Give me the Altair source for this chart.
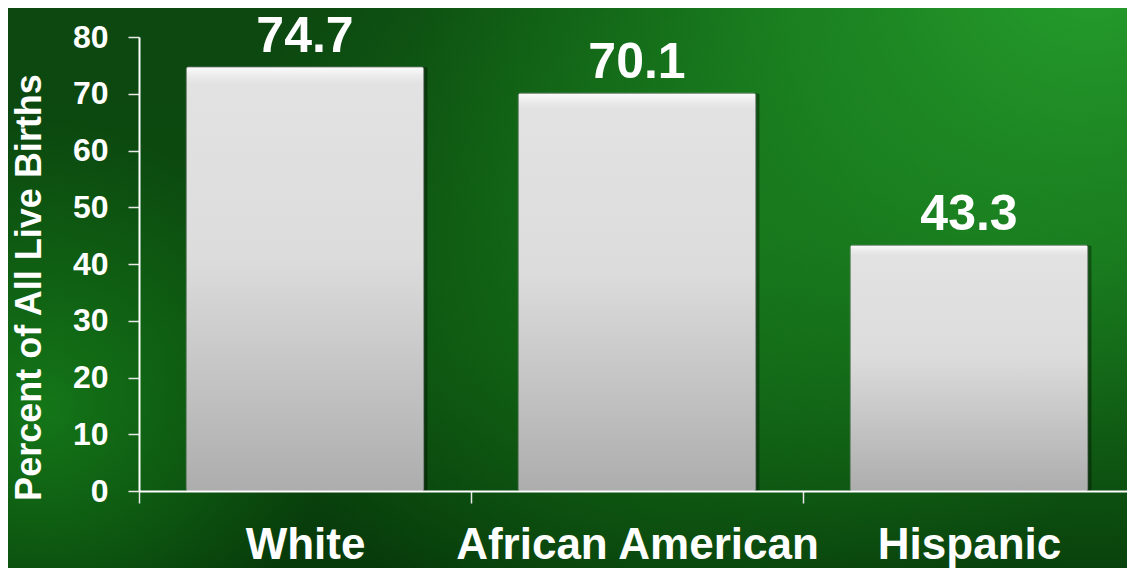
import altair as alt
import pandas as pd

categories = ["White", "African American", "Hispanic"]
values = [74.7, 70.1, 43.3]
y_ticks = [0, 10, 20, 30, 40, 50, 60, 70, 80]
y_title = "Percent of All Live Births"

df = pd.DataFrame({"group": categories, "pct": values})
one = pd.DataFrame({"k": [0]})

FONT = "Liberation Sans"
W, H = 988, 454
PL, PT, PB = 131, 29, 77


def bg_layer(fill):
    return alt.Chart(one).mark_rect(fill=fill, strokeWidth=0).encode(
        x=alt.value(-PL), x2=alt.value(W + 20),
        y=alt.value(-PT), y2=alt.value(H + PB + 10),
    )


base_bg = bg_layer(alt.Gradient(
    gradient="linear", x1=0, y1=0, x2=0, y2=1,
    stops=[alt.GradientStop(offset=0, color="#0c4810"),
           alt.GradientStop(offset=0.6, color="#0b4a0e"),
           alt.GradientStop(offset=1, color="#073a0a")]))

glow_tr = bg_layer(alt.Gradient(
    gradient="radial", x1=0.95, y1=0.2, r1=0, x2=0.95, y2=0.2, r2=0.6,
    stops=[alt.GradientStop(offset=0, color="rgba(38,160,45,1)"),
           alt.GradientStop(offset=0.45, color="rgba(30,140,36,0.75)"),
           alt.GradientStop(offset=1, color="rgba(20,110,25,0)")]))

glow_c = bg_layer(alt.Gradient(
    gradient="radial", x1=0.6, y1=0.45, r1=0, x2=0.6, y2=0.45, r2=0.4,
    stops=[alt.GradientStop(offset=0, color="rgba(24,125,28,0.85)"),
           alt.GradientStop(offset=1, color="rgba(22,120,26,0)")]))

glow_l = bg_layer(alt.Gradient(
    gradient="radial", x1=0.03, y1=0.6, r1=0, x2=0.03, y2=0.6, r2=0.25,
    stops=[alt.GradientStop(offset=0, color="rgba(20,118,24,1)"),
           alt.GradientStop(offset=1, color="rgba(18,112,22,0)")]))

x_enc = alt.X(
    "group:N", sort=categories,
    scale=alt.Scale(paddingInner=0, paddingOuter=0, range=[0, 996]),
    axis=alt.Axis(
        title=None, labelAngle=0, tickBand="extent",
        domainColor="white", domainWidth=2,
        tickColor="#e8e8e8", tickWidth=1.5, tickSize=12,
        labelFont=FONT, labelFontSize=44, labelFontWeight="bold",
        labelColor="white", labelBaseline="alphabetic", labelPadding=55,
        labelLimit=0, labelOverlap=False, zindex=1,
    ),
)
y_enc = alt.Y(
    "pct:Q",
    scale=alt.Scale(domain=[0, 80], nice=False),
    axis=alt.Axis(
        values=y_ticks, grid=False, title=y_title,
        domainColor="white", domainWidth=2,
        tickColor="#e8e8e8", tickWidth=1.5, tickSize=11,
        labelFont=FONT, labelFontSize=32, labelFontWeight="bold",
        labelColor="white", labelPadding=20,
        titleFont=FONT, titleFontSize=36, titleFontWeight="bold",
        titleColor="white", titleAngle=270, titleAlign="center",
        titleBaseline="alphabetic", titleX=-99, titleY=250, zindex=1,
    ),
)

BAR_W = alt.RelativeBandSize(0.715)

shadow = alt.Chart(df).mark_bar(
    color="#000000", opacity=0.35, xOffset=4, cornerRadius=2, width=BAR_W
).encode(x=x_enc, y=y_enc)

bars = alt.Chart(df).mark_bar(
    cornerRadius=2, width=BAR_W,
    fill=alt.Gradient(
        gradient="linear", x1=0, y1=0, x2=0, y2=1,
        stops=[alt.GradientStop(offset=0, color="#fbfbfb"),
               alt.GradientStop(offset=0.02, color="#ececec"),
               alt.GradientStop(offset=0.04, color="#e2e2e2"),
               alt.GradientStop(offset=0.45, color="#dcdcdc"),
               alt.GradientStop(offset=1, color="#adadad")]),
    stroke="#9a9a9a", strokeWidth=0.6,
).encode(x=x_enc, y=y_enc)

labels = alt.Chart(df).mark_text(
    font=FONT, fontSize=50, fontWeight="bold", color="white",
    baseline="alphabetic", align="center", dy=-15,
).encode(x=x_enc, y=y_enc, text=alt.Text("pct:Q", format=".1f"))

chart = alt.layer(base_bg, glow_c, glow_l, glow_tr, shadow, bars, labels).properties(
    width=W, height=H,
    padding={"left": PL, "top": PT, "right": 0, "bottom": PB},
    autosize=alt.AutoSizeParams(type="none"),
).configure_view(stroke=None)

chart.save("out.html", embed_options={"renderer": "svg", "actions": False})
